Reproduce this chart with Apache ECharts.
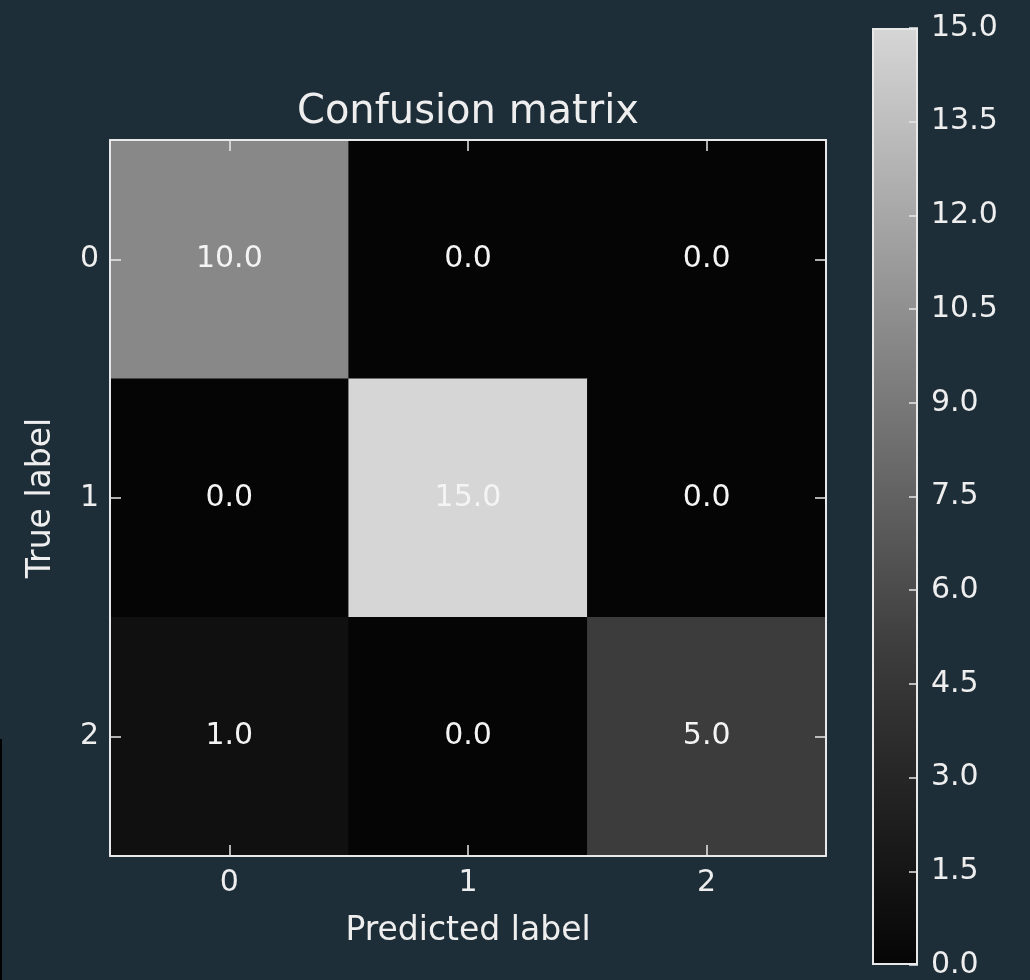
<!DOCTYPE html>
<html>
<head>
<meta charset="utf-8">
<script src="https://cdn.jsdelivr.net/npm/echarts@6/dist/echarts.min.js"></script>
<style>
html,body{margin:0;padding:0;background:#1e2e38;}
#chart{width:1030px;height:980px;}
</style>
</head>
<body>
<div id="chart"></div>
<script>
const predictedLabels = ['0', '1', '2'];
const trueLabels = ['0', '1', '2'];
const matrix = [
  [10, 0, 0],
  [0, 15, 0],
  [1, 0, 5]
];
const colorbarMin = 0;
const colorbarMax = 15;
const colorbarStep = 1.5;
const colorStops = ['#050505', '#3c3c3c', '#888888', '#d6d6d6'];

const heatData = [];
matrix.forEach((row, r) => row.forEach((v, c) => heatData.push([c, r, v])));

const FONT = 'DejaVu Sans';
const TXT = '#eeeeee';
const LINE = '#e8e8e8';

const chart = echarts.init(document.getElementById('chart'), null, {renderer: 'canvas'});
const gradStops = colorStops.map((c, i) => ({offset: 1 - i / (colorStops.length - 1), color: c}));

chart.setOption({
  backgroundColor: '#1e2e38',
  animation: false,
  textStyle: {fontFamily: FONT},
  grid: [
    {left: 110, top: 140, width: 716, height: 716},
    {left: 872, top: 28, width: 46, height: 938}
  ],
  xAxis: [
    {type: 'category', gridIndex: 0, position: 'bottom', data: predictedLabels, z: 10,
     name: 'Predicted label', nameLocation: 'middle', nameGap: 59,
     nameTextStyle: {color: TXT, fontSize: 33, fontFamily: FONT},
     axisLine: {show: true, lineStyle: {color: LINE, width: 2}},
     axisTick: {show: true, inside: true, alignWithLabel: true, length: 11, lineStyle: {color: LINE, width: 1.5}},
     axisLabel: {color: TXT, fontSize: 30, fontFamily: FONT, margin: 12},
     splitLine: {show: false}},
    {type: 'category', gridIndex: 0, position: 'top', data: predictedLabels, z: 10,
     name: 'Confusion matrix', nameLocation: 'middle', nameGap: 7,
     nameTextStyle: {color: TXT, fontSize: 40, fontFamily: FONT, verticalAlign: 'bottom'},
     axisLine: {show: true, lineStyle: {color: LINE, width: 2}},
     axisTick: {show: true, inside: true, alignWithLabel: true, length: 11, lineStyle: {color: LINE, width: 1.5}},
     axisLabel: {show: false}, splitLine: {show: false}},
    {type: 'category', gridIndex: 1, data: [''], show: false}
  ],
  yAxis: [
    {type: 'category', gridIndex: 0, position: 'left', data: trueLabels, inverse: true, z: 10,
     name: 'True label', nameLocation: 'middle', nameGap: 52, nameRotate: 90,
     nameTextStyle: {color: TXT, fontSize: 33, fontFamily: FONT},
     axisLine: {show: true, lineStyle: {color: LINE, width: 2}},
     axisTick: {show: true, inside: true, alignWithLabel: true, length: 11, lineStyle: {color: LINE, width: 1.5}},
     axisLabel: {color: TXT, fontSize: 30, fontFamily: FONT, margin: 11},
     splitLine: {show: false}},
    {type: 'category', gridIndex: 0, position: 'right', data: trueLabels, inverse: true, z: 10,
     axisLine: {show: true, lineStyle: {color: LINE, width: 2}},
     axisTick: {show: true, inside: true, alignWithLabel: true, length: 11, lineStyle: {color: LINE, width: 1.5}},
     axisLabel: {show: false}, splitLine: {show: false}},
    {type: 'value', gridIndex: 1, position: 'right', min: colorbarMin, max: colorbarMax, interval: colorbarStep, z: 10,
     axisLine: {show: false},
     axisTick: {show: true, inside: true, length: 9, lineStyle: {color: LINE, width: 1.5}},
     axisLabel: {color: TXT, fontSize: 30, fontFamily: FONT, margin: 13, formatter: v => v.toFixed(1)},
     splitLine: {show: false}}
  ],
  visualMap: {
    show: false, type: 'continuous', min: colorbarMin, max: colorbarMax, seriesIndex: 0,
    inRange: {color: colorStops}
  },
  series: [
    {type: 'heatmap', xAxisIndex: 0, yAxisIndex: 0, data: heatData,
     label: {show: true, color: '#f4f4f4', fontSize: 30, fontFamily: FONT, formatter: p => p.value[2].toFixed(1)},
     itemStyle: {borderWidth: 0}},
    {type: 'bar', xAxisIndex: 2, yAxisIndex: 2, data: [colorbarMax], barWidth: '100%', silent: true,
     itemStyle: {color: new echarts.graphic.LinearGradient(0, 0, 0, 1, gradStops), borderColor: LINE, borderWidth: 2}}
  ],
  graphic: [
    {type: 'rect', left: 0, top: 739, shape: {width: 2, height: 241}, style: {fill: '#000'}, silent: true}
  ]
});
</script>
</body>
</html>
